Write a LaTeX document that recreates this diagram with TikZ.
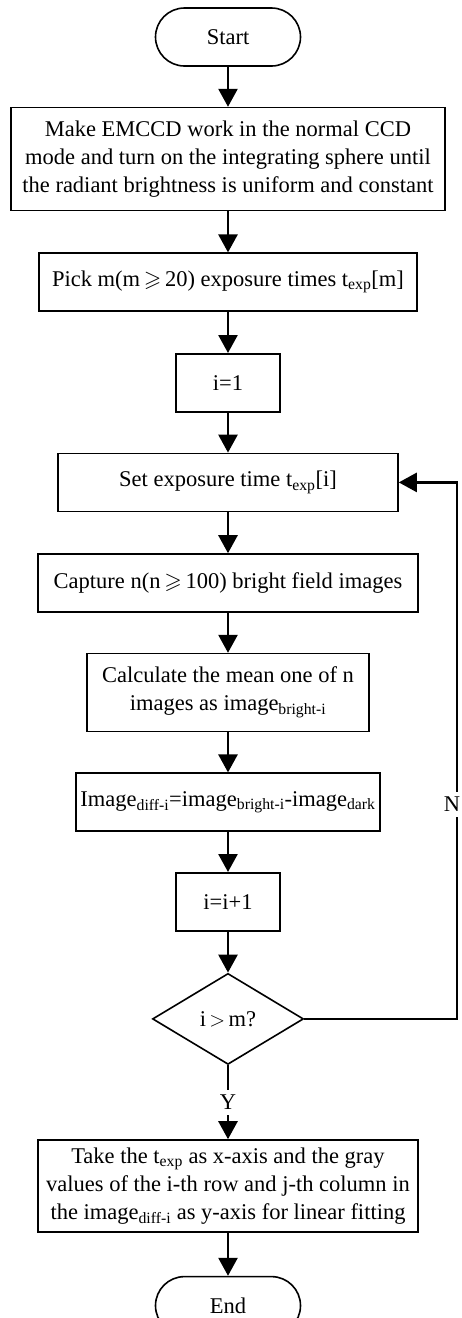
\documentclass[tikz,border=0pt]{standalone}
\usepackage{amssymb}
\usepackage{fontspec}
\setmainfont{Liberation Serif}
\usetikzlibrary{arrows.meta,positioning,shapes.geometric}
\tikzset{
  flowterm/.style={draw, line width=1.6pt, rounded corners=29pt, align=center, minimum width=145pt, minimum height=58pt, font=\fontsize{22.5}{28}\selectfont},
  flowbox/.style={draw, line width=1.6pt, align=center, minimum height=58pt, inner xsep=2pt, font=\fontsize{22.5}{28}\selectfont},
  flowdecide/.style={draw, line width=1.6pt, diamond, inner sep=0pt, minimum width=151pt, minimum height=91pt, font=\fontsize{22.5}{28}\selectfont},
  flowarrow/.style={-{Triangle[width=19pt,length=18pt]}, line width=2.6pt},
  flowlabel/.style={fill=white, inner xsep=1pt, inner ysep=5pt, font=\fontsize{22.5}{28}\selectfont}
}
\newcommand{\gesl}{\,$\geqslant$\,}

\begin{document}
\begin{tikzpicture}[node distance=40pt]
\useasboundingbox (0pt,0pt) rectangle (462pt,-1318pt);
\node[flowterm] (start) at (228pt,-37pt) {Start};
\node[flowbox, below=of start, minimum width=434pt, minimum height=103pt] (prepare) {Make EMCCD work in the normal CCD\\mode and turn on the integrating sphere until\\the radiant brightness is uniform and constant};
\node[flowbox, below=41pt of prepare, minimum width=378pt] (pick) {Pick m(m\gesl20) exposure times t\textsubscript{exp}[m]};
\node[flowbox, below=41pt of pick, minimum width=104pt] (init) {i=1};
\node[flowbox, below=of init, minimum width=340pt] (setexp) {Set exposure time t\textsubscript{exp}[i]};
\node[flowbox, below=41pt of setexp, minimum width=380pt] (capture) {Capture n(n\gesl100) bright field images};
\node[flowbox, below=of capture, minimum width=282pt, minimum height=78pt] (mean) {Calculate the mean one of n\\images as image\textsubscript{bright-i}};
\node[flowbox, below=of mean, minimum width=304pt] (diff) {Image\textsubscript{diff-i}=image\textsubscript{bright-i}-image\textsubscript{dark}};
\node[flowbox, below=of diff, minimum width=104pt] (incr) {i=i+1};
\node[flowdecide, below=41pt of incr] (check) {i$\,>\,$m?};
\node[flowbox, below=74pt of check, minimum width=380pt, minimum height=92pt] (fit) {Take the t\textsubscript{exp} as x-axis and the gray\\values of the i-th row and j-th column in\\the image\textsubscript{diff-i} as y-axis for linear fitting};
\node[flowterm, below=43pt of fit] (finish) {End};
\coordinate (loopx) at (457pt,0pt);

\draw[flowarrow] (start) -- (prepare);
\draw[flowarrow] (prepare) -- (pick);
\draw[flowarrow] (pick) -- (init);
\draw[flowarrow] (init) -- (setexp);
\draw[flowarrow] (setexp) -- (capture);
\draw[flowarrow] (capture) -- (mean);
\draw[flowarrow] (mean) -- (diff);
\draw[flowarrow] (diff) -- (incr);
\draw[flowarrow] (incr) -- (check);
\draw[flowarrow] (check) -- node[flowlabel] {Y} (fit);
\draw[flowarrow] (fit) -- (finish);
% loop back when i is not above m
\draw[flowarrow] (check.east) -- (check.east -| loopx) -- node[flowlabel, pos=0.4, xshift=-5pt] {N} (setexp.east -| loopx) -- (setexp.east);
\end{tikzpicture}
\end{document}
